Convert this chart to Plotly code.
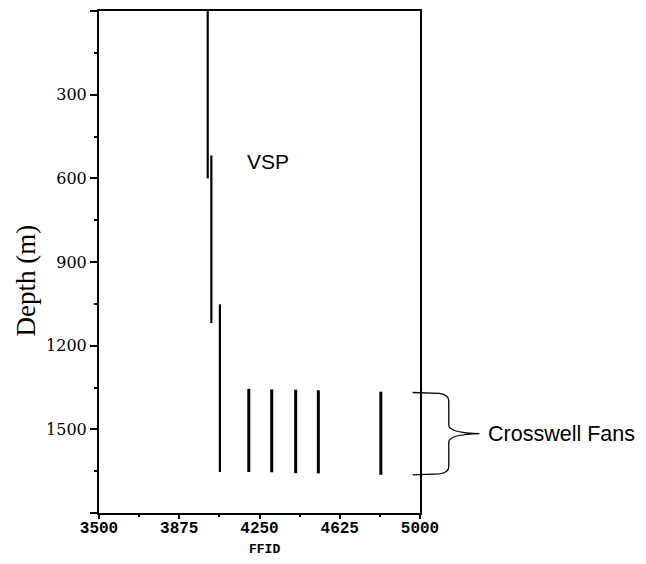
import plotly.graph_objects as go

# ---- data ----
vsp_ffid = [4008, 4025, 4065]
vsp_top = [0, 518, 1052]
vsp_bottom = [600, 1119, 1653]

fan_ffid = [4200, 4307, 4419, 4525, 4817]
fan_top = [1355, 1357, 1358, 1360, 1365]
fan_bottom = [1653, 1654, 1657, 1658, 1663]

x_ticks = [3500, 3875, 4250, 4625, 5000]
y_ticks = [0, 300, 600, 900, 1200, 1500, 1800]
y_ticktext = ["", "300", "600", "900", "1200", "1500", ""]

fig = go.Figure()

for x, t, b in zip(vsp_ffid, vsp_top, vsp_bottom):
    fig.add_trace(go.Scatter(x=[x, x], y=[t, b], mode="lines",
                             line=dict(color="black", width=2.2), showlegend=False,
                             hoverinfo="skip"))
for x, t, b in zip(fan_ffid, fan_top, fan_bottom):
    fig.add_trace(go.Scatter(x=[x, x], y=[t, b], mode="lines",
                             line=dict(color="black", width=3), showlegend=False,
                             hoverinfo="skip"))

# curly brace for crosswell fans (x in paper units, y in depth units)
ytop = min(fan_top) + 13
ybot = max(fan_bottom)
ymid = (ytop + ybot) / 2
x0, xc, xv, xt = 0.977, 1.06, 1.0897, 1.185
d = 30
path = (f"M {x0},{ytop} L {xc},{ytop+3} Q {xv},{ytop+8} {xv},{ytop+d} "
        f"L {xv},{ymid-d} Q {xv},{ymid-3} {xt},{ymid} "
        f"Q {xv},{ymid+3} {xv},{ymid+d} L {xv},{ybot-d} "
        f"Q {xv},{ybot-8} {xc},{ybot-3} L {x0},{ybot}")
fig.add_shape(type="path", path=path, xref="paper", yref="y",
              line=dict(color="black", width=1.3))

fig.add_annotation(text="Crosswell Fans", xref="paper", yref="y",
                   x=1.207, y=ymid, xanchor="left", yanchor="middle",
                   showarrow=False,
                   font=dict(family="Liberation Sans, Arial", size=21.5, color="black"))
fig.add_annotation(text="VSP", xref="x", yref="y", x=4292, y=540,
                   xanchor="center", yanchor="middle", showarrow=False,
                   font=dict(family="Liberation Sans, Arial", size=21, color="black"))
fig.add_annotation(text="Depth (m)", xref="paper", yref="paper",
                   x=-0.228, y=0.463, textangle=-90, showarrow=False,
                   xanchor="center", yanchor="middle",
                   font=dict(family="Liberation Serif, Times New Roman", size=27, color="black"))
fig.add_annotation(text="FFID", xref="paper", yref="paper",
                   x=0.515, y=-0.072, showarrow=False,
                   xanchor="center", yanchor="middle",
                   font=dict(family="Liberation Mono, Courier New", size=13, color="black",
                             weight="bold"))

fig.update_xaxes(range=[3500, 5000], tickmode="array", tickvals=x_ticks,
                 ticks="outside", ticklen=4, tickwidth=1.5, tickcolor="black",
                 ticklabelstandoff=-5,
                 minor=dict(ticks="outside", ticklen=2, tickwidth=1.5, dtick=187.5,
                            tick0=3500, tickcolor="black"),
                 showline=True, linecolor="black", linewidth=2, mirror=True,
                 showgrid=False, zeroline=False,
                 tickfont=dict(family="Liberation Mono, Courier New", size=16,
                               color="black", weight="bold"))
fig.update_yaxes(range=[1800, 0], tickmode="array", tickvals=y_ticks,
                 ticktext=y_ticktext,
                 ticks="outside", ticklen=7, tickwidth=1.5, tickcolor="black",
                 minor=dict(ticks="outside", ticklen=3, tickwidth=1.5, dtick=150,
                            tick0=0, tickcolor="black"),
                 showline=True, linecolor="black", linewidth=2, mirror=True,
                 showgrid=False, zeroline=False,
                 tickfont=dict(family="DejaVu Serif", size=16, color="black"))

# page body adds an 8 px offset; size the figure to fit the window
fig.update_layout(width=638, height=556,
                  margin=dict(l=91, r=226, t=1, b=51, pad=0),
                  plot_bgcolor="white", paper_bgcolor="white")

fig.write_html("out.html")
